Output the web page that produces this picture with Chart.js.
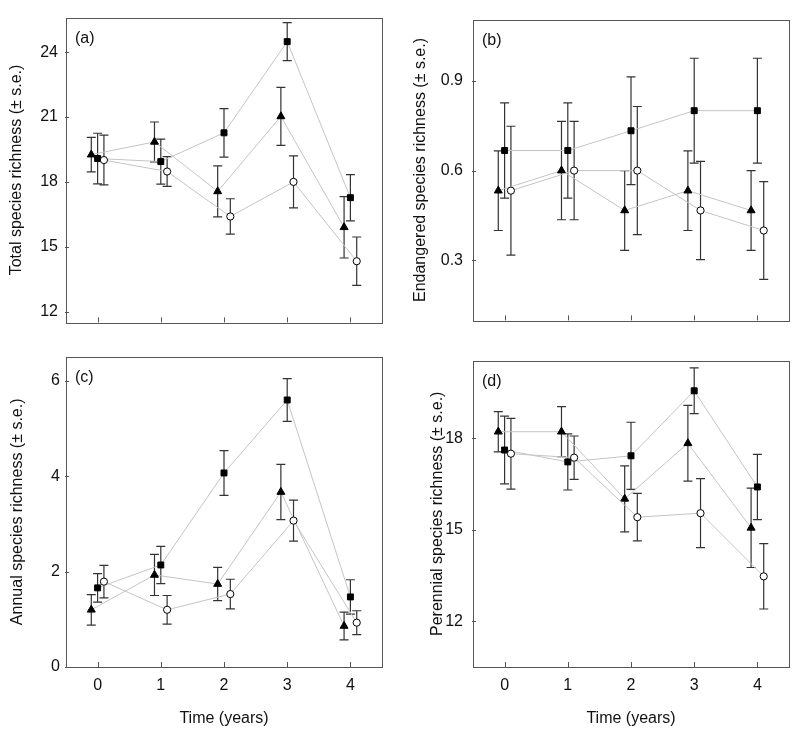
<!DOCTYPE html>
<html>
<head>
<meta charset="utf-8">
<script src="https://cdn.jsdelivr.net/npm/chart.js@4.4.1/dist/chart.umd.min.js"></script>
<style>
  body { margin: 0; background: #fff; }
  .panel { position: absolute; width: 392px; }
</style>
</head>
<body>
<div class="panel" style="left:0;top:0;height:340px"><canvas id="chartA"></canvas></div>
<div class="panel" style="left:407px;top:0;height:340px"><canvas id="chartB"></canvas></div>
<div class="panel" style="left:0;top:341px;height:396px"><canvas id="chartC"></canvas></div>
<div class="panel" style="left:407px;top:341px;height:396px"><canvas id="chartD"></canvas></div>
<script>
const years = [0, 1, 2, 3, 4]

// (a) total species richness
const totalSquare = [19.08, 18.94, 20.27, 24.49, 17.27]
const totalSquareSE = [1.17, 1.04, 1.12, 0.88, 1.07]
const totalTriangle = [19.26, 19.85, 17.56, 21.03, 15.9]
const totalTriangleSE = [0.8, 0.92, 1.18, 1.34, 1.42]
const totalCircle = [19.01, 18.48, 16.4, 18.0, 14.33]
const totalCircleSE = [1.15, 0.69, 0.82, 1.2, 1.12]
const totalTicks = [12, 15, 18, 21, 24]

// (b) endangered species richness
const endSquare = [0.667, 0.667, 0.733, 0.8, 0.8]
const endSquareSE = [0.159, 0.159, 0.18, 0.175, 0.175]
const endTriangle = [0.533, 0.6, 0.467, 0.533, 0.467]
const endTriangleSE = [0.133, 0.164, 0.133, 0.133, 0.133]
const endCircle = [0.533, 0.6, 0.6, 0.467, 0.4]
const endCircleSE = [0.215, 0.164, 0.214, 0.164, 0.163]
const endTicks = [0.3, 0.6, 0.9]

// (c) annual species richness
const annSquare = [1.66, 2.14, 4.07, 5.6, 1.47]
const annSquareSE = [0.3, 0.39, 0.47, 0.45, 0.36]
const annTriangle = [1.2, 1.93, 1.74, 3.67, 0.86]
const annTriangleSE = [0.32, 0.43, 0.35, 0.58, 0.29]
const annCircle = [1.79, 1.2, 1.53, 3.07, 0.93]
const annCircleSE = [0.34, 0.3, 0.31, 0.43, 0.25]
const annTicks = [0, 2, 4, 6]

// (d) perennial species richness
const perSquare = [17.61, 17.22, 17.42, 19.55, 16.4]
const perSquareSE = [1.11, 0.92, 1.1, 0.75, 1.07]
const perTriangle = [18.21, 18.21, 16.01, 17.83, 15.06]
const perTriangleSE = [0.66, 0.82, 1.08, 1.24, 1.3]
const perCircle = [17.49, 17.36, 15.41, 15.54, 13.47]
const perCircleSE = [1.16, 0.71, 0.78, 1.13, 1.07]
const perTicks = [12, 15, 18]

Chart.defaults.font.family = '"Liberation Sans", Arial, Helvetica, sans-serif'
Chart.defaults.font.size = 16
Chart.defaults.color = '#111'

const AXIS = '#555'

// error bars go under the markers
const errorBars = {
  id: 'errorBars',
  beforeDatasetsDraw(chart) {
    const { ctx, scales: { x, y } } = chart
    ctx.save()
    ctx.strokeStyle = '#333'
    ctx.lineWidth = 1.2
    chart.data.datasets.forEach(ds => {
      ds.data.forEach((p, i) => {
        const px = x.getPixelForValue(p.x)
        const top = y.getPixelForValue(p.y + ds.errors[i])
        const bot = y.getPixelForValue(p.y - ds.errors[i])
        ctx.beginPath()
        ctx.moveTo(px, top); ctx.lineTo(px, bot)
        ctx.moveTo(px - 4.5, top); ctx.lineTo(px + 4.5, top)
        ctx.moveTo(px - 4.5, bot); ctx.lineTo(px + 4.5, bot)
        ctx.stroke()
      })
    })
    ctx.restore()
  }
}

// box, inward ticks and panel letter
const frame = {
  id: 'frame',
  afterDraw(chart, args, opts) {
    const { ctx, chartArea: a, scales: { x, y } } = chart
    ctx.save()
    ctx.strokeStyle = AXIS
    ctx.lineWidth = 1
    ctx.strokeRect(Math.round(a.left) + 0.5, Math.round(a.top) + 0.5,
      Math.round(a.right - a.left), Math.round(a.bottom - a.top))
    ctx.beginPath()
    x.ticks.forEach(t => {
      const px = Math.round(x.getPixelForValue(t.value)) + 0.5
      ctx.moveTo(px, a.bottom); ctx.lineTo(px, a.bottom - 5)
    })
    y.ticks.forEach(t => {
      const py = Math.round(y.getPixelForValue(t.value)) + 0.5
      ctx.moveTo(a.left - 1, py); ctx.lineTo(a.left + 3, py)
    })
    ctx.stroke()
    ctx.fillStyle = '#111'
    ctx.font = '16px "Liberation Sans", Arial, sans-serif'
    ctx.textBaseline = 'middle'
    ctx.fillText(opts.letter, a.left + 9, a.top + 21)
    ctx.restore()
  }
}

function series(label, values, errors, style, dodge, fill, radius, order) {
  return {
    label,
    data: values.map((v, i) => ({ x: years[i] + dodge, y: v })),
    errors,
    order,
    borderColor: '#c4c4c4',
    borderWidth: 1,
    tension: 0,
    pointStyle: style,
    pointRadius: radius,
    pointBackgroundColor: fill,
    pointBorderColor: '#000',
    pointBorderWidth: 1
  }
}

function makePanel(id, p) {
  new Chart(document.getElementById(id), {
    type: 'line',
    data: {
      datasets: [
        series('circle', p.circle, p.circleSE, 'circle', 0.1, '#fff', 3.6, 0),
        series('square', p.square, p.squareSE, 'rect', 0, '#000', 4.2, 1),
        series('triangle', p.triangle, p.triangleSE, 'triangle', -0.1, '#000', 4.6, 2)
      ]
    },
    options: {
      responsive: true,
      maintainAspectRatio: false,
      animation: false,
      layout: { padding: { top: 10, right: 10, left: 0, bottom: 0 } },
      plugins: {
        legend: { display: false },
        tooltip: { enabled: false },
        frame: { letter: p.letter }
      },
      scales: {
        x: {
          type: 'linear',
          min: -0.5,
          max: 4.5,
          grid: { display: false, drawTicks: false },
          border: { display: false },
          afterBuildTicks: s => { s.ticks = years.map(v => ({ value: v })) },
          afterFit: s => { s.height = p.bottomAxis ? 70 : 12 },
          ticks: { display: p.bottomAxis, padding: 9, color: '#111' },
          title: {
            display: p.bottomAxis,
            text: 'Time (years)',
            padding: { top: 0, bottom: 9 },
            color: '#111'
          }
        },
        y: {
          min: p.min,
          max: p.max,
          grid: { display: false, drawTicks: false },
          border: { display: false },
          afterBuildTicks: s => { s.ticks = p.ticks.map(v => ({ value: v })) },
          afterFit: s => { s.width = 66 },
          ticks: { padding: p.tickPad, color: '#111', callback: v => String(v) },
          title: {
            display: true,
            text: p.title,
            padding: { top: p.titlePad, bottom: 0 },
            color: '#111'
          }
        }
      }
    },
    plugins: [errorBars, frame]
  })
}

makePanel('chartA', {
  letter: '(a)', title: 'Total species richness (± s.e.)',
  square: totalSquare, squareSE: totalSquareSE,
  triangle: totalTriangle, triangleSE: totalTriangleSE,
  circle: totalCircle, circleSE: totalCircleSE,
  ticks: totalTicks, min: 11.5, max: 25.6, tickPad: 8, titlePad: 7, bottomAxis: false
})

makePanel('chartB', {
  letter: '(b)', title: 'Endangered species richness (± s.e.)',
  square: endSquare, squareSE: endSquareSE,
  triangle: endTriangle, triangleSE: endTriangleSE,
  circle: endCircle, circleSE: endCircleSE,
  ticks: endTicks, min: 0.1, max: 1.104, tickPad: 10, titlePad: 4, bottomAxis: false
})

makePanel('chartC', {
  letter: '(c)', title: 'Annual species richness (± s.e.)',
  square: annSquare, squareSE: annSquareSE,
  triangle: annTriangle, triangleSE: annTriangleSE,
  circle: annCircle, circleSE: annCircleSE,
  ticks: annTicks, min: 0, max: 6.51, tickPad: 6, titlePad: 8, bottomAxis: true
})

makePanel('chartD', {
  letter: '(d)', title: 'Perennial species richness (± s.e.)',
  square: perSquare, squareSE: perSquareSE,
  triangle: perTriangle, triangleSE: perTriangleSE,
  circle: perCircle, circleSE: perCircleSE,
  ticks: perTicks, min: 10.5, max: 20.54, tickPad: 10, titlePad: 21, bottomAxis: true
})
</script>
</body>
</html>
